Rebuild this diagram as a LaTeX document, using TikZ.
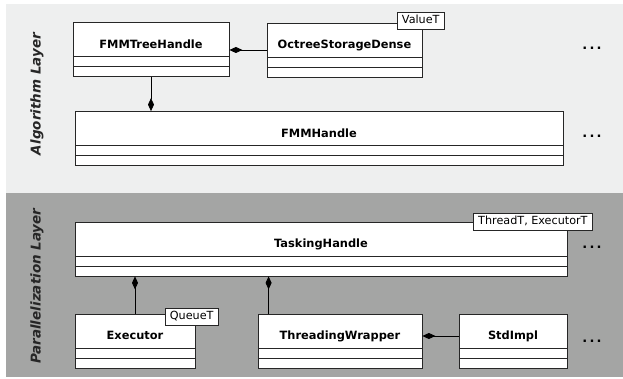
\documentclass[tikz,border=0pt]{standalone}
\usepackage{fontspec}
\setmainfont{DejaVu Sans}
\usetikzlibrary{arrows.meta, positioning}
\definecolor{algobg}{HTML}{EEEFEF}
\definecolor{parabg}{HTML}{A4A5A4}
\tikzstyle{umlclass} = [rectangle, draw=black!85, fill=white, line width=0.8pt, minimum height=54pt, text height=8pt, text depth=10pt, font=\bfseries\fontsize{11.4}{13}\selectfont,
    path picture={\draw[black!85, line width=0.8pt]
        ([yshift=10pt]path picture bounding box.south west) -- ([yshift=10pt]path picture bounding box.south east)
        ([yshift=20pt]path picture bounding box.south west) -- ([yshift=20pt]path picture bounding box.south east);}]
\tikzstyle{tparam} = [rectangle, draw=black!85, fill=white, line width=0.7pt, font=\fontsize{11.2}{13}\selectfont, inner xsep=4.5pt, inner ysep=0pt, minimum height=17pt, text height=8pt, text depth=2.5pt]
\tikzstyle{layer} = [rotate=90, font=\bfseries\itshape\fontsize{13.5}{16}\selectfont, text=black!85]
\tikzstyle{more} = [font=\bfseries\fontsize{13}{15}\selectfont]
\tikzstyle{comp} = [line width=0.8pt, -{Diamond[length=13pt, width=6pt]}]

\begin{document}
\begin{tikzpicture}[x=1pt, y=1pt]
    \useasboundingbox (0,0) rectangle (623,379);
    % Layers
    \fill[algobg] (6,186) rectangle (623,375);
    \fill[parabg] (6,2) rectangle (623,186);
    \node (alglayer) [layer] at (37,285) {Algorithm Layer};
    \node (parlayer) [layer] at (37,93) {Parallelization Layer};

    % Nodes
    \node (treehandle) [umlclass, minimum width=156pt] at (151,329.5) {FMMTreeHandle};
    \node (octree) [umlclass, minimum width=155pt] at (344.5,329) {OctreeStorageDense};
    \node (valuet) [tparam, anchor=east] at ([xshift=22pt, yshift=2pt]octree.north east) {ValueT};
    \node (fmmhandle) [umlclass, minimum width=488pt] at (319,240.5) {FMMHandle};
    \node (tasking) [umlclass, minimum width=492pt] at (321,130) {TaskingHandle};
    \node (taskparams) [tparam, anchor=east] at ([xshift=25pt]tasking.north east) {ThreadT, ExecutorT};
    \node (executor) [umlclass, minimum width=120pt] at (135,38) {Executor};
    \node (queuet) [tparam, anchor=east] at ([xshift=23pt, yshift=-3pt]executor.north east) {QueueT};
    \node (wrapper) [umlclass, minimum width=164pt] at (340,38) {ThreadingWrapper};
    \node (stdimpl) [umlclass, minimum width=108pt] at (513,38) {StdImpl};

    % More classes
    \node (moretree) [more] at (592,331) {.\,.\,.};
    \node (morefmm) [more] at (592,243) {.\,.\,.};
    \node (moretask) [more] at (592,132) {.\,.\,.};
    \node (moreimpl) [more] at (592,38) {.\,.\,.};

    % Arrows
    \coordinate (wrapjoint) at ([xshift=11pt]wrapper.north west);
    \draw [comp] (octree.west) -- (octree.west -| treehandle.east);
    \draw [comp] (treehandle.south) -- (treehandle.south |- fmmhandle.north);
    \draw [comp] (executor.north) -- (executor.north |- tasking.south);
    \draw [comp] (wrapjoint) -- (wrapjoint |- tasking.south);
    \draw [comp] ([yshift=5pt]stdimpl.west) -- ([yshift=5pt]stdimpl.west -| wrapper.east);
\end{tikzpicture}
\end{document}
